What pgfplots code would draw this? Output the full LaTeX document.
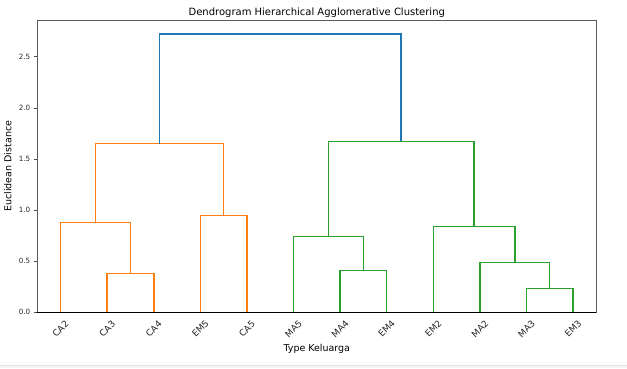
\documentclass[border=0pt]{standalone}
\usepackage{pgfplots}
\pgfplotsset{compat=1.18}
\usepackage{fontspec}
\setmainfont{DejaVu Sans}
\definecolor{c0}{HTML}{1F77B4}
\definecolor{c1}{HTML}{FF7F0E}
\definecolor{c2}{HTML}{2CA02C}
\begin{document}
\begin{tikzpicture}[x=1pt,y=1pt]
\useasboundingbox (0,0) rectangle (627,368);
\fill[black!4] (0,0) rectangle (627,2.5);
\draw[black!10] (0,2.5) -- (627,2.5);
\begin{axis}[
  at={(37.3pt,55.7pt)}, anchor=south west,
  scale only axis, width=559pt, height=292pt,
  xmin=0, xmax=120, ymin=0, ymax=2.856,
  xtick={5,15,25,35,45,55,65,75,85,95,105,115},
  xticklabels={CA2,CA3,CA4,EM5,CA5,MA5,MA4,EM4,EM2,MA2,MA3,EM3},
  ytick={0,0.5,1,1.5,2,2.5},
  yticklabel style={/pgf/number format/.cd,fixed,fixed zerofill,precision=1,assume math mode=true},
  tick label style={font=\fontsize{7.2}{9}\selectfont, text=black!85},
  xticklabel style={font=\fontsize{9}{10}\selectfont, anchor=center, yshift=-13pt, rotate=45},
  tick align=outside, major tick length=3.5pt,
  tick pos=left,
  xtick style={draw=none},
  ytick style={black!70, line width=0.6pt},
  axis line style={black!65, line width=0.7pt},
  title={Dendrogram Hierarchical Agglomerative Clustering},
  title style={font=\fontsize{10}{12}\selectfont, at={(axis description cs:0.5,1)}, anchor=center, yshift=1.3pt},
  xlabel={Type Keluarga},
  xlabel style={font=\fontsize{9.5}{11}\selectfont, at={(axis description cs:0.5,0)}, anchor=center, yshift=-36.7pt},
  ylabel={Euclidean Distance},
  ylabel style={font=\fontsize{9.5}{11}\selectfont, at={(axis description cs:0,0.5)}, anchor=center, yshift=29.5pt},
  clip=false,
]
\addplot[c1, line width=1.5pt] coordinates {(15,0) (15,0.381) (25,0.381) (25,0)};
\addplot[c1, line width=1.5pt] coordinates {(5,0) (5,0.880) (20,0.880) (20,0.381)};
\addplot[c1, line width=1.5pt] coordinates {(35,0) (35,0.945) (45,0.945) (45,0)};
\addplot[c1, line width=1.5pt] coordinates {(12.5,0.880) (12.5,1.649) (40,1.649) (40,0.945)};
\addplot[c2, line width=1.5pt] coordinates {(65,0) (65,0.411) (75,0.411) (75,0)};
\addplot[c2, line width=1.5pt] coordinates {(55,0) (55,0.740) (70,0.740) (70,0.411)};
\addplot[c2, line width=1.5pt] coordinates {(105,0) (105,0.231) (115,0.231) (115,0)};
\addplot[c2, line width=1.5pt] coordinates {(95,0) (95,0.489) (110,0.489) (110,0.231)};
\addplot[c2, line width=1.5pt] coordinates {(85,0) (85,0.837) (102.5,0.837) (102.5,0.489)};
\addplot[c2, line width=1.5pt] coordinates {(62.5,0.740) (62.5,1.672) (93.75,1.672) (93.75,0.837)};
\addplot[c0, line width=1.5pt] coordinates {(26.25,1.649) (26.25,2.72) (78.125,2.72) (78.125,1.672)};
\draw[black, line width=1pt] (axis cs:0,0) -- (axis cs:120,0);
\end{axis}
\end{tikzpicture}
\end{document}
